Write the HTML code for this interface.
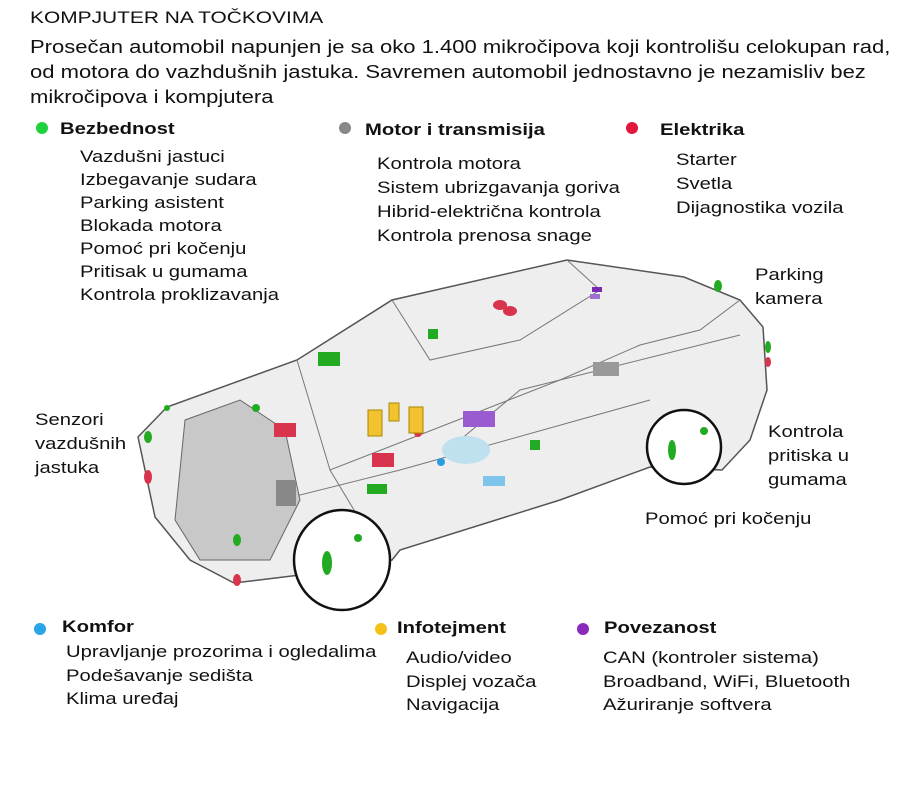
<!DOCTYPE html>
<html><head><meta charset="utf-8"><style>
body{margin:0;width:900px;height:786px;background:#fff;font-family:"Liberation Sans",sans-serif;color:#111;position:relative;overflow:hidden}
.t{position:absolute;white-space:nowrap;font-size:17px;line-height:20px;transform:scaleX(1.19);transform-origin:0 0}
.b{font-weight:bold}
.d{position:absolute;width:12px;height:12px;border-radius:50%}
</style></head><body>
<div class="t" style="left:30px;top:8px;font-size:17px;transform:scaleX(1.23)">KOMPJUTER NA TOČKOVIMA</div>
<div class="t" style="left:30px;top:34px;font-size:18.5px;line-height:25px">Prosečan automobil napunjen je sa oko 1.400 mikročipova koji kontrolišu celokupan rad,<br>od motora do vazhdušnih jastuka. Savremen automobil jednostavno je nezamisliv bez<br>mikročipova i kompjutera</div>

<svg style="position:absolute;left:0;top:0" width="900" height="786">
<g fill="#eeeeee" stroke="#555" stroke-width="1.5">
<path d="M138,437 L167,407 L297,360 L392,300 L567,260 L684,277 L740,300 L763,327 L767,390 L750,440 L722,470 L650,467 L560,500 L400,550 L392,560 L300,575 L234,583 L190,560 L155,517 Z"/>
</g>
<g fill="none" stroke="#777" stroke-width="1">
<path d="M297,360 L330,470 L560,380 L640,345 L700,330 L740,300"/>
<path d="M392,300 L430,360 L520,340 L600,290 L567,260"/>
<path d="M460,440 L520,390 L740,335"/>
<path d="M200,520 L400,470 L650,400"/>
<path d="M330,470 L360,520"/>
</g>
<g fill="#c8c8c8" stroke="#666"><path d="M185,420 L240,400 L285,430 L300,500 L270,560 L200,560 L175,520 Z"/></g>
<g fill="#fff" stroke="#111" stroke-width="2.5">
<ellipse cx="342" cy="560" rx="48" ry="50"/>
<ellipse cx="684" cy="447" rx="37" ry="37"/>
</g>
<g fill="#2a2" ><ellipse cx="327" cy="563" rx="5" ry="12"/><ellipse cx="672" cy="450" rx="4" ry="10"/>
<circle cx="358" cy="538" r="4"/><circle cx="704" cy="431" r="4"/>
<rect x="318" y="352" width="22" height="14"/><rect x="428" y="329" width="10" height="10"/>
<rect x="530" y="440" width="10" height="10"/><rect x="367" y="484" width="20" height="10"/>
<ellipse cx="148" cy="437" rx="4" ry="6"/><ellipse cx="237" cy="540" rx="4" ry="6"/>
<ellipse cx="718" cy="286" rx="4" ry="6"/><ellipse cx="768" cy="347" rx="3" ry="6"/>
<circle cx="256" cy="408" r="4"/><circle cx="167" cy="408" r="3"/></g>
<g fill="#d8344d"><rect x="274" y="423" width="22" height="14"/><rect x="372" y="453" width="22" height="14"/>
<ellipse cx="500" cy="305" rx="7" ry="5"/><ellipse cx="510" cy="311" rx="7" ry="5"/>
<ellipse cx="148" cy="477" rx="4" ry="7"/><ellipse cx="237" cy="580" rx="4" ry="6"/><ellipse cx="768" cy="362" rx="3" ry="5"/><circle cx="418" cy="433" r="4"/></g>
<g fill="#f2c230" stroke="#a80"><rect x="368" y="410" width="14" height="26"/><rect x="389" y="403" width="10" height="18"/><rect x="409" y="407" width="14" height="26"/></g>
<rect x="593" y="362" width="26" height="14" fill="#999"/>
<rect x="276" y="480" width="20" height="26" fill="#888"/>
<rect x="463" y="411" width="32" height="16" fill="#9a5ad0"/>
<ellipse cx="466" cy="450" rx="24" ry="14" fill="#bfe0ee"/>
<rect x="483" y="476" width="22" height="10" fill="#7fc4ea"/>
<circle cx="441" cy="462" r="4" fill="#2a9de0"/>
<rect x="592" y="287" width="10" height="5" fill="#7a2ab0"/><rect x="590" y="294" width="10" height="5" fill="#a070d0"/>
</svg>

<div class="d" style="left:36px;top:122px;background:#1fd13b"></div>
<div class="t b" style="left:60px;top:119px">Bezbednost</div>
<div class="t" style="left:80px;top:145px;line-height:23px">Vazdušni jastuci<br>Izbegavanje sudara<br>Parking asistent<br>Blokada motora<br>Pomoć pri kočenju<br>Pritisak u gumama<br>Kontrola proklizavanja</div>

<div class="d" style="left:339px;top:122px;background:#888"></div>
<div class="t b" style="left:365px;top:120px">Motor i transmisija</div>
<div class="t" style="left:377px;top:152px;line-height:24px">Kontrola motora<br>Sistem ubrizgavanja goriva<br>Hibrid-električna kontrola<br>Kontrola prenosa snage</div>

<div class="d" style="left:626px;top:122px;background:#e3173e"></div>
<div class="t b" style="left:660px;top:120px">Elektrika</div>
<div class="t" style="left:676px;top:148px;line-height:24px">Starter<br>Svetla<br>Dijagnostika vozila</div>

<div class="t" style="left:755px;top:263px;line-height:24px">Parking<br>kamera</div>
<div class="t" style="left:35px;top:408px;line-height:24px">Senzori<br>vazdušnih<br>jastuka</div>
<div class="t" style="left:768px;top:420px;line-height:24px">Kontrola<br>pritiska u<br>gumama</div>
<div class="t" style="left:645px;top:509px">Pomoć pri kočenju</div>

<div class="d" style="left:34px;top:623px;background:#2aa5e8"></div>
<div class="t b" style="left:62px;top:617px">Komfor</div>
<div class="t" style="left:66px;top:640px;line-height:23.5px">Upravljanje prozorima i ogledalima<br>Podešavanje sedišta<br>Klima uređaj</div>

<div class="d" style="left:375px;top:623px;background:#f5c118"></div>
<div class="t b" style="left:397px;top:618px">Infotejment</div>
<div class="t" style="left:406px;top:646px;line-height:23.5px">Audio/video<br>Displej vozača<br>Navigacija</div>

<div class="d" style="left:577px;top:623px;background:#8a2ab8"></div>
<div class="t b" style="left:604px;top:618px">Povezanost</div>
<div class="t" style="left:603px;top:646px;line-height:23.5px">CAN (kontroler sistema)<br>Broadband, WiFi, Bluetooth<br>Ažuriranje softvera</div>
</body></html>
